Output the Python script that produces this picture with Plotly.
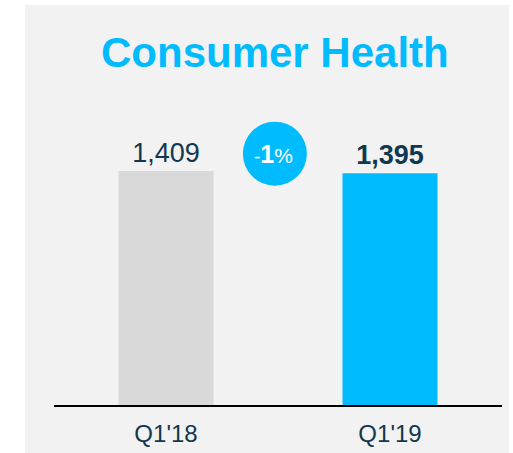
"""
Consumer Health quarterly sales: Q1'18 vs Q1'19 bar comparison.
"""

import plotly.graph_objects as go

QUARTERS = ["Q1'18", "Q1'19"]
SALES = [1409, 1395]
BAR_COLORS = ["#D9D9D9", "#00BCFF"]

TITLE = "Consumer Health"
FONT = "Arial, Liberation Sans, sans-serif"
NAVY = "#10384F"
BLUE = "#00BCFF"
PANEL = "#F2F2F2"

change_pct = round((SALES[1] - SALES[0]) / SALES[0] * 100)
sign = "-" if change_pct < 0 else "+"

labels = [f"{SALES[0]:,}", f"<b>{SALES[1]:,}</b>"]

fig = go.Figure()
fig.add_trace(
    go.Bar(
        x=QUARTERS,
        y=SALES,
        width=0.424,
        marker=dict(color=BAR_COLORS, line=dict(width=0)),
        text=labels,
        textposition="outside",
        textfont=dict(family=FONT, size=27, color=NAVY),
        cliponaxis=False,
        hoverinfo="skip",
    )
)

# grey panel behind everything
fig.add_shape(
    type="rect",
    xref="paper",
    yref="paper",
    x0=(25 - 54) / 448,
    x1=(509 - 54) / 448,
    y0=-0.3,
    y1=400 / 305,
    fillcolor=PANEL,
    line=dict(width=0),
    layer="below",
)

# change bubble
fig.add_shape(
    type="circle",
    xref="paper",
    yref="paper",
    xsizemode="pixel",
    ysizemode="pixel",
    xanchor=0.493,
    yanchor=0.824,
    x0=-32,
    x1=32,
    y0=-32,
    y1=32,
    fillcolor=BLUE,
    line=dict(width=0),
)
fig.add_annotation(
    xref="paper",
    yref="paper",
    x=0.489,
    y=0.822,
    text=(
        f"<span style='font-size:19px'>{sign}</span>"
        f"<b><span style='font-size:25px'>{abs(change_pct)}</span></b>"
        "<span style='font-size:21px'>%</span>"
    ),
    showarrow=False,
    font=dict(family=FONT, size=21, color="white"),
    xanchor="center",
    yanchor="middle",
)

fig.update_layout(
    width=513,
    height=453,
    margin=dict(l=54, r=11, t=100, b=48),
    paper_bgcolor="white",
    plot_bgcolor=PANEL,
    showlegend=False,
    title=dict(
        text=f"<b>{TITLE}</b>",
        font=dict(family=FONT, size=42, color=BLUE),
        xref="paper",
        x=0.493,
        xanchor="center",
        yref="container",
        y=1 - 52 / 453,
        yanchor="middle",
    ),
)
fig.update_xaxes(
    showline=True,
    linecolor="black",
    linewidth=2,
    ticks="",
    tickfont=dict(family=FONT, size=24, color=NAVY),
    ticklabelstandoff=6,
    automargin=False,
    showgrid=False,
    zeroline=False,
)
fig.update_yaxes(
    visible=False,
    range=[0, 1409 * 305 / 234],
    automargin=False,
    showgrid=False,
    zeroline=False,
)

# page body margin would push the figure off its 513x453 frame
fig.write_html(
    "out.html",
    config={"displayModeBar": False},
    post_script="document.body.style.margin = '0';",
)
